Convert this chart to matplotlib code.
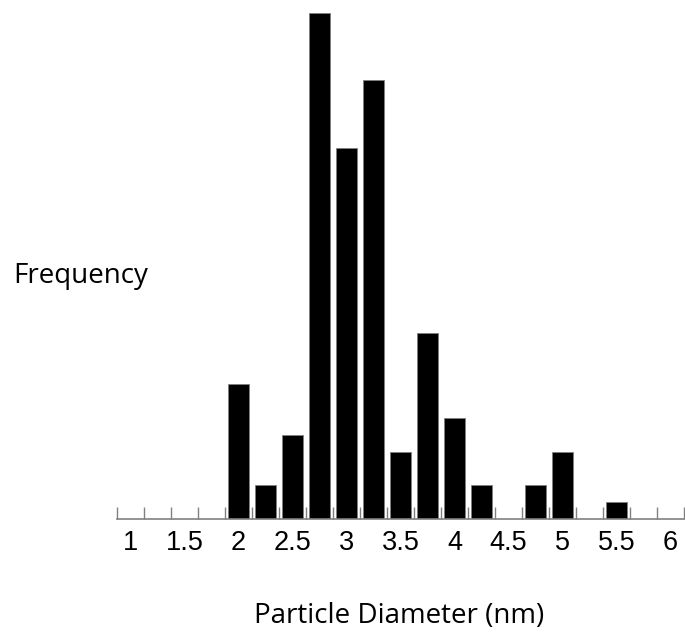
import matplotlib
matplotlib.use("Agg")
import matplotlib.pyplot as plt
import numpy as np

# particle diameter bins (nm), step 0.25
diameters = [1, 1.25, 1.5, 1.75, 2, 2.25, 2.5, 2.75, 3, 3.25, 3.5,
             3.75, 4, 4.25, 4.5, 4.75, 5, 5.25, 5.5, 5.75, 6]
counts = [0, 0, 0, 0, 8, 2, 5, 30, 22, 26, 4,
          11, 6, 2, 0, 2, 4, 0, 1, 0, 0]
tick_labels = ["1", "1.5", "2", "2.5", "3", "3.5", "4", "4.5", "5", "5.5", "6"]

W, H = 685, 635
fig = plt.figure(figsize=(W / 100, H / 100), dpi=100)
ax = fig.add_axes([117 / W, 1 - 519 / H, 567 / W, 506 / H])

pos = np.arange(len(diameters))
ax.bar(pos, counts, width=0.78, color="black", edgecolor="#808080", linewidth=0.6)

ax.set_xlim(-0.5, len(diameters) - 0.5)
ax.set_ylim(0, 30)

for side in ["top", "right", "left"]:
    ax.spines[side].set_visible(False)
ax.spines["bottom"].set_color("#808080")
ax.spines["bottom"].set_linewidth(1.2)
ax.set_yticks([])

ax.set_xticks(np.arange(-0.5, len(diameters)), minor=True)
ax.tick_params(axis="x", which="minor", direction="in", length=9, width=1, color="#808080")
ax.set_xticks(pos[::2])
ax.set_xticklabels(tick_labels, fontsize=19.5, family="Liberation Sans")
ax.tick_params(axis="x", which="major", length=0, pad=8)

fig.text(13 / W, 1 - 283 / H, "Frequency", fontsize=20, family="Open Sans",
         ha="left", va="baseline")
fig.text(399 / W, 1 - 623 / H, "Particle Diameter (nm)", fontsize=20,
         family="Open Sans", ha="center", va="baseline")

fig.savefig("out.png", dpi=100)
